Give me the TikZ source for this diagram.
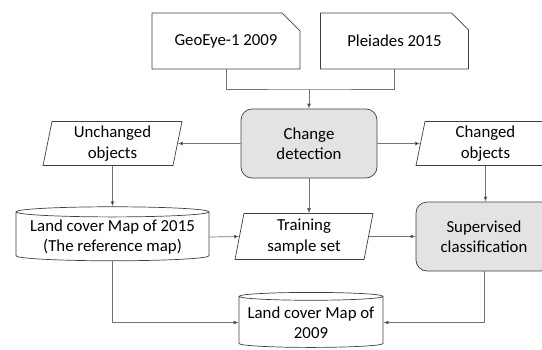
\documentclass[tikz,border=0pt]{standalone}
\usepackage{fontspec}
\setmainfont{Carlito}
\usetikzlibrary{shapes.geometric,shapes.misc,arrows.meta}

\begin{document}
\begin{tikzpicture}[x=1pt,y=-1pt,
		font=\fontsize{16.8}{20.5}\selectfont,
		every node/.style={align=center,draw=black!75,line width=0.7pt,inner sep=2pt},
		imagebox/.style={chamfered rectangle,chamfered rectangle corners=north east,chamfered rectangle xsep=9pt,chamfered rectangle ysep=9pt,minimum width=148pt,minimum height=56pt},
		processbox/.style={rectangle,rounded corners=11pt,fill=black!11,minimum width=136pt,minimum height=69pt},
		databox/.style={trapezium,trapezium left angle=77,trapezium right angle=103,trapezium stretches body,minimum width=139pt,minimum height=44pt},
		mapbox/.style={cylinder,shape border rotate=90,aspect=0.06},
		link/.style={draw=black!55,line width=0.7pt},
		arr/.style={link,-{Latex[length=5pt,width=4pt,fill=black]}}]
		\clip (0,0) rectangle (542,349);
		
		\node[imagebox] (geo) at (226,41) {GeoEye-1 2009};
		\node[imagebox] (pleiades) at (394.5,41) {Pleiades 2015};
		
		\node[processbox] (change) at (309,143.5) {Change\\detection};
		\node[databox] (unchanged) at (112.5,143.5) {Unchanged\\objects};
		\node[databox] (changed) at (485.5,143.5) {Changed\\objects};
		
		\node[mapbox,minimum width=193pt,minimum height=54pt] (land15) at (112.5,237) {Land cover Map of 2015\\(The reference map)};
		\node[databox,minimum width=138pt,minimum height=46pt] (training) at (304,236.5) {Training\\sample set};
		\node[processbox] (supervised) at (484,236.5) {Supervised\\classification};
		
		\node[mapbox,minimum width=144pt,minimum height=55pt] (land09) at (311,322.5) {Land cover Map of\\2009};
		
		\coordinate (join) at (309,89);
		\draw[link] (geo.south) |- (join) -| (pleiades.south);
		\draw[arr] (join) -- (change.north);
		
		\draw[arr] (change.west) -- (unchanged.east);
		\draw[arr] (change.east) -- (changed.west);
		\draw[arr] (change.south) -- (change.south |- training.north);
		\draw[arr] (unchanged.south) -- (land15.north);
		\draw[arr] (changed.south) -- (changed.south |- supervised.north);
		
		\draw[arr] (land15.east) -- (training.west);
		\draw[arr] (training.east) -- (supervised.west);
		
		\draw[arr] (land15.south) |- (land09.west);
		\draw[arr] (supervised.south) |- (land09.east);
	\end{tikzpicture}
\end{document}
